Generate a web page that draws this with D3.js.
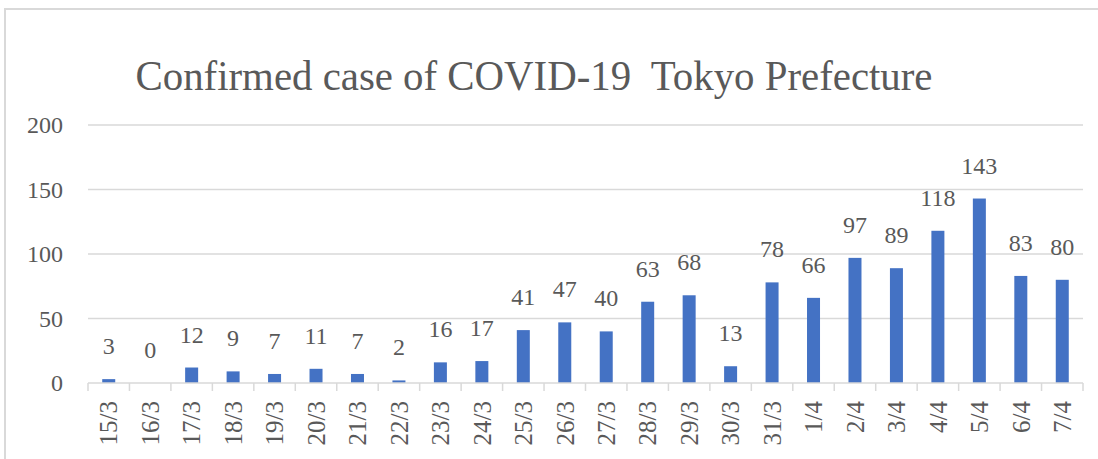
<!DOCTYPE html>
<html>
<head>
<meta charset="utf-8">
<script src="https://cdn.jsdelivr.net/npm/d3@7"></script>
<style>
  body { margin: 0; background: #fff; }
  text { font-family: "Liberation Serif", "DejaVu Serif", serif; fill: #595959; }
</style>
</head>
<body>
<div id="chart"></div>
<script>
var dates = ["15/3","16/3","17/3","18/3","19/3","20/3","21/3","22/3","23/3","24/3","25/3","26/3",
             "27/3","28/3","29/3","30/3","31/3","1/4","2/4","3/4","4/4","5/4","6/4","7/4"];
var cases = [3,0,12,9,7,11,7,2,16,17,41,47,40,63,68,13,78,66,97,89,118,143,83,80];
var yTicks = [0,50,100,150,200];
var titleText = "Confirmed case of COVID-19  Tokyo Prefecture";

var width = 1098, height = 459;
var plotLeft = 88, plotRight = 1083, plotTop = 125, plotBottom = 383;

var svg = d3.select("#chart").append("svg")
  .attr("width", width)
  .attr("height", height);

// chart frame
svg.append("rect")
  .attr("x", 5).attr("y", 9)
  .attr("width", width + 10).attr("height", height + 10)
  .attr("fill", "none")
  .attr("stroke", "#d9d9d9")
  .attr("stroke-width", 2);

var xb = d3.scaleBand().domain(dates).range([plotLeft, plotRight]);
var y = d3.scaleLinear().domain([0, 200]).range([plotBottom, plotTop]);

// grid
svg.append("g").selectAll("line").data(yTicks.slice(1)).enter().append("line")
  .attr("x1", plotLeft).attr("x2", plotRight)
  .attr("y1", function(d) { return y(d); }).attr("y2", function(d) { return y(d); })
  .attr("stroke", "#d9d9d9").attr("stroke-width", 1.5);

// y labels
svg.append("g").selectAll("text").data(yTicks).enter().append("text")
  .attr("x", 63)
  .attr("y", function(d) { return y(d); })
  .attr("dy", "0.35em")
  .attr("text-anchor", "end")
  .style("font-size", "24px")
  .text(function(d) { return d; });

// bars
svg.append("g").selectAll("rect").data(cases).enter().append("rect")
  .attr("x", function(d, i) { return xb(dates[i]) + xb.bandwidth() / 2 - 6.5; })
  .attr("width", 13)
  .attr("y", function(d) { return y(d); })
  .attr("height", function(d) { return plotBottom - y(d); })
  .attr("fill", "#4472c4");

// data labels
svg.append("g").selectAll("text").data(cases).enter().append("text")
  .attr("x", function(d, i) { return xb(dates[i]) + xb.bandwidth() / 2; })
  .attr("y", function(d) { return y(d) - 25; })
  .attr("text-anchor", "middle")
  .style("font-size", "24px")
  .text(function(d) { return d; });

// x axis line and ticks
svg.append("line")
  .attr("x1", plotLeft).attr("x2", plotRight)
  .attr("y1", plotBottom).attr("y2", plotBottom)
  .attr("stroke", "#d9d9d9").attr("stroke-width", 1.5);
var bounds = dates.map(function(d) { return xb(d); }).concat([plotRight]);
svg.append("g").selectAll("line").data(bounds).enter().append("line")
  .attr("x1", function(d) { return d; }).attr("x2", function(d) { return d; })
  .attr("y1", plotBottom).attr("y2", plotBottom + 8)
  .attr("stroke", "#d9d9d9").attr("stroke-width", 1.5);

// x labels
svg.append("g").selectAll("text").data(dates).enter().append("text")
  .attr("transform", function(d) {
    return "translate(" + (xb(d) + xb.bandwidth() / 2) + "," + (plotBottom + 18) + ") rotate(-90)";
  })
  .attr("dy", "0.35em")
  .attr("text-anchor", "end")
  .style("font-size", "25px")
  .text(function(d) { return d; });

// title
svg.append("text")
  .attr("x", 534)
  .attr("y", 90)
  .attr("text-anchor", "middle")
  .style("font-size", "42px")
  .style("white-space", "pre")
  .attr("textLength", 797)
  .attr("lengthAdjust", "spacingAndGlyphs")
  .text(titleText);
</script>
</body>
</html>
